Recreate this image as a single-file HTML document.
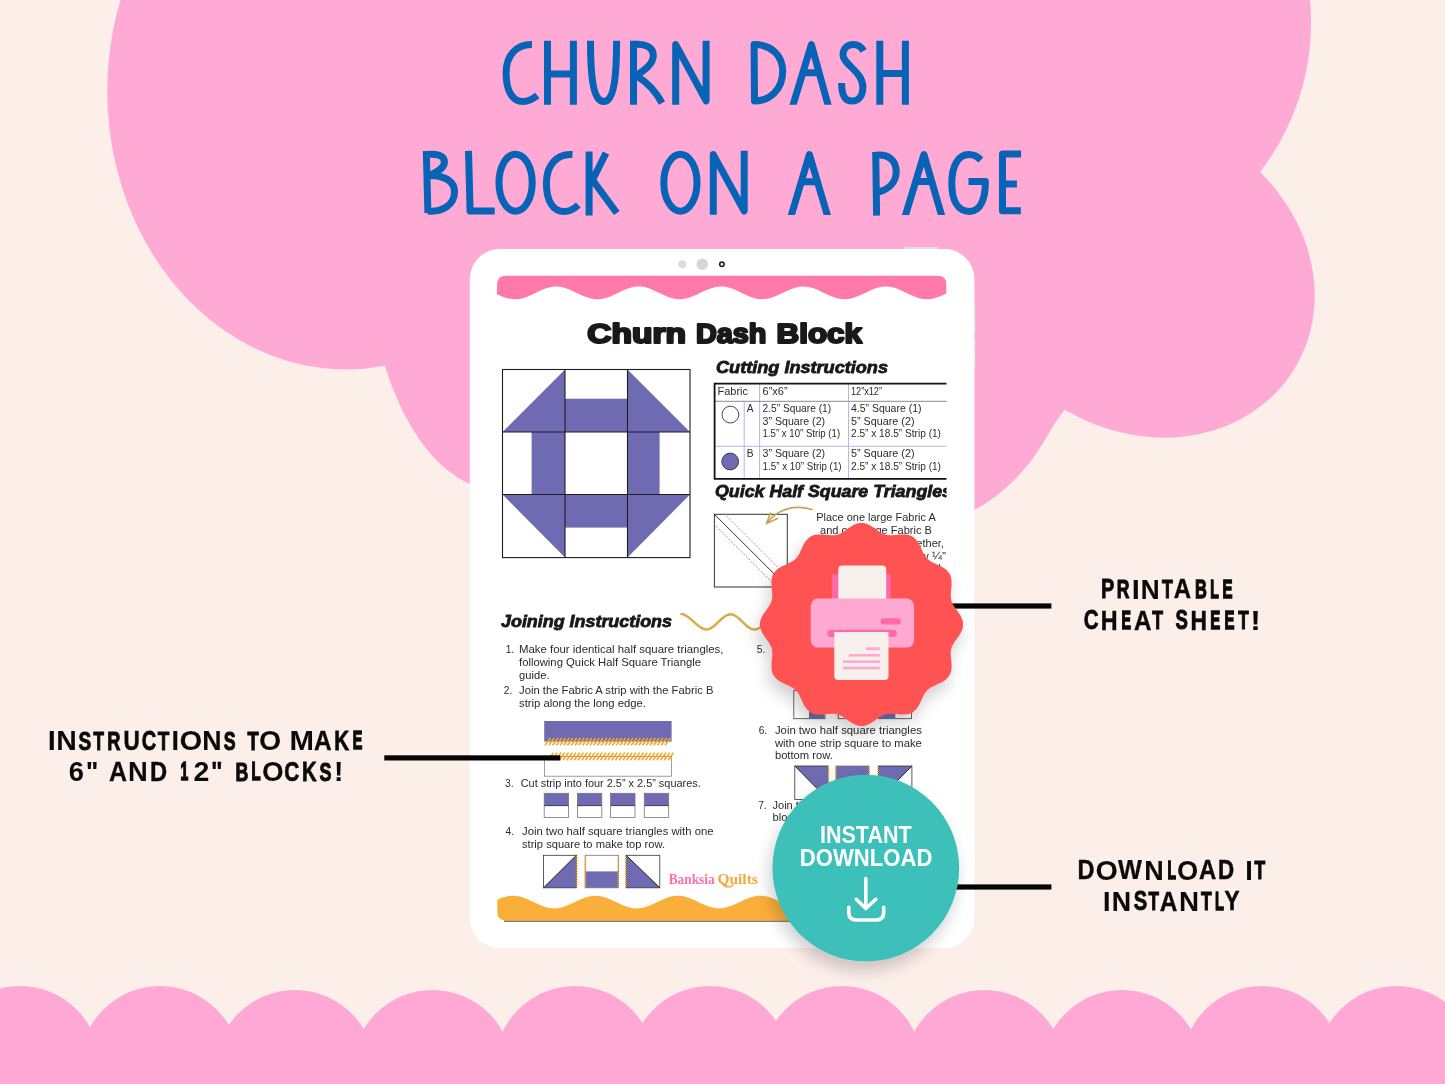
<!DOCTYPE html>
<html><head><meta charset="utf-8"><title>Churn Dash Block on a Page</title>
<style>
html,body{margin:0;padding:0;background:#fceee9;}
body{width:1445px;height:1084px;overflow:hidden;font-family:"Liberation Sans",sans-serif;}
svg{display:block;will-change:transform}
text{font-family:"Liberation Sans",sans-serif;}
.lbl{font-weight:700;font-size:25.5px;fill:#0a0a0a;}
.t{font-size:10.2px;fill:#2b2b2b;}
.h{font-weight:700;font-style:italic;font-size:17px;fill:#1a1718;stroke:#1a1718;stroke-width:.8px;}
.ttl path,.ttl ellipse{fill:none;stroke:#0663b5;stroke-width:7;stroke-linejoin:round;stroke-linecap:butt}
</style></head><body>
<svg width="1445" height="1084" viewBox="0 0 1445 1084">
<defs>
<filter id="sh" x="-30%" y="-30%" width="160%" height="160%"><feGaussianBlur in="SourceAlpha" stdDeviation="8"/><feOffset dx="-3" dy="9"/><feComponentTransfer><feFuncA type="linear" slope=".19"/></feComponentTransfer><feMerge><feMergeNode/><feMergeNode in="SourceGraphic"/></feMerge></filter>
<clipPath id="doc"><rect x="497" y="272" width="449.5" height="660"/></clipPath>
<clipPath id="tab"><rect x="469.8" y="249" width="504.6" height="699" rx="30"/></clipPath>
<clipPath id="c1"><rect x="0" y="0" width="1445" height="104.8"/></clipPath><clipPath id="c2"><rect x="0" y="0" width="1445" height="214.9"/></clipPath>
</defs>
<rect width="1445" height="1084" fill="#fceee9"/>
<path d="M135.5 -40 A238.8 278.2 0 0 0 384.9 365.7 A132.8 248.9 0 0 0 499.3 490.5 L930 529 C933.3 527.7 944.7 523.2 950.0 521.0C955.3 518.8 958.0 517.6 962.0 515.7C966.0 513.8 970.3 511.6 974.0 509.7C977.7 507.8 980.3 506.8 984.0 504.5C987.7 502.2 992.0 499.2 996.0 496.1C1000.0 493.0 1004.0 489.7 1008.0 486.0C1012.0 482.3 1016.0 478.4 1020.0 474.0C1024.0 469.6 1028.0 465.0 1032.0 459.6C1036.0 454.2 1040.0 447.9 1044.0 441.6C1047.9 435.3 1052.4 427.1 1055.9 421.8C1059.4 416.5 1063.4 411.8 1064.9 409.8 A177.1 154.9 31.7 0 0 1260 172 A244.2 244.2 0 0 0 1302.9 -40 Z" fill="#ffaad4"/>
<g fill="#ffa8d5"><circle cx="20.0" cy="1066.0" r="80"/><circle cx="160.0" cy="1066.0" r="80"/><circle cx="295.0" cy="1070.0" r="80"/><circle cx="432.5" cy="1070.0" r="80"/><circle cx="575.0" cy="1066.0" r="80"/><circle cx="710.0" cy="1066.0" r="80"/><circle cx="842.0" cy="1066.0" r="80"/><circle cx="984.5" cy="1070.0" r="80"/><circle cx="1122.0" cy="1070.0" r="80"/><circle cx="1262.0" cy="1066.0" r="80"/><circle cx="1397.0" cy="1066.0" r="80"/><rect x="0" y="1040" width="1445" height="50"/></g>
<g class="ttl">
<path d="M532 44.4C516 44 506 56 506.1 73.2C506.2 92 513 101.6 523.2 101.6C529 101.6 533 99 537.3 95.6"/>
<path d="M547.5 40.8V104.7M573.4 40.8V104.7M547.5 74H573.4"/>
<path d="M590.5 40.8C590.5 70 592 101.5 603.8 101.5C615 101.5 616.6 70 616.6 40.8"/>
<path d="M633.5 40.8V104.7M633.5 44.5C645 43 653.5 47 653.3 56C653 64 645 70 636 75.5C647 82 656 92 662 103"/>
<path d="M675.7 104.7V44.6L706.1 100.9V40.8"/>
<path d="M754.1 44.6C772 44.6 782.7 56 782.7 71.5C782.7 89 770 101.1 754.5 101.1Z"/>
<path clip-path="url(#c1)" d="M792.2 107.7L811.4 44.6L828.8 107.7M802 72.8H821"/>
<path d="M863.5 51C861 46.5 857 44.6 853.5 44.6C847 44.6 843 49 843 55C843 64 862.9 72 862.9 87C862.9 96 858.5 101.1 852.1 101.1C845 101.1 841.6 96 841.6 83"/>
<path d="M879.8 40.8V104.7M905.4 40.8V104.7M879.8 73.5H905.4"/>
<path d="M426.3 151L427.9 213M426.3 154.6C436 153.5 444.4 155 444.4 162C444.4 169 436 172 430 175.5C445 176 454.5 181 454.5 192C454.5 205 442 212.5 427.9 211"/>
<path d="M468.5 150.8L470.1 211.1H494.7"/>
<ellipse cx="515.6" cy="182.7" rx="16.6" ry="28.5"/>
<path d="M572.5 154.6C557 153.5 546.4 165 546.4 183.2C546.4 201 553 211.6 564.5 211.6C570 211.6 574 209 578.3 205"/>
<path d="M589.1 151.6V215.6M606 153L592.5 180L616.8 213"/>
<ellipse cx="680.4" cy="182.7" rx="16.6" ry="28.5"/>
<path d="M713.3 214.8V154.6L744.2 211V150.8"/>
<path clip-path="url(#c2)" d="M790.6 217.8L809.4 154.6L828.1 217.8M801 181.7H819.5"/>
<path d="M875.7 152L876.6 215.6M875.7 155.3C888 153.5 896.2 160 896.2 171.6C896.2 183 888 190 877 192.3"/>
<path clip-path="url(#c2)" d="M904.7 217.8L923.9 154.6L942.3 217.8M915 181.4H934"/>
<path d="M980.8 160C977 156 973 154.6 968.8 154.6C958 154.6 951.8 166 951.8 183.2C951.8 201 958 211.4 969.6 211.4C981 211.4 985.4 198 985.4 181.4H968.5"/>
<path d="M1021.1 154H1002.5V210.8H1020.8M1002.5 183.9H1016.9"/>
</g>
<rect x="904.4" y="247.1" width="34" height="4" rx="1" fill="#dedede"/>
<rect x="972" y="304.4" width="3.3" height="28.8" rx="1" fill="#dcdcdc"/><rect x="972" y="339" width="3.3" height="29.6" rx="1" fill="#dcdcdc"/>
<rect x="469.8" y="249" width="504.6" height="699" rx="30" fill="#fff"/>
<circle cx="682.3" cy="264.3" r="4" fill="#dcdcdc"/><circle cx="702.3" cy="264.3" r="5.7" fill="#d6d6d6"/><circle cx="721.9" cy="264.3" r="2.2" fill="#fff" stroke="#222" stroke-width="1.6"/>
<g clip-path="url(#doc)">
<path d="M506.0 275.7 H937.5 Q946.5 275.7 946.5 284.7L946.5 293.4L942.7 295.2L938.9 296.8L935.2 298.1L931.4 298.9L927.6 299.3L923.8 299.1L920.1 298.4L916.3 297.3L912.5 295.8L908.7 294.0L904.9 292.2L901.2 290.4L897.4 288.8L893.6 287.6L889.8 286.8L886.1 286.5L882.3 286.7L878.5 287.5L874.7 288.6L871.0 290.2L867.2 291.9L863.4 293.8L859.6 295.5L855.8 297.1L852.1 298.3L848.3 299.0L844.5 299.3L840.7 299.0L837.0 298.2L833.2 297.0L829.4 295.5L825.6 293.7L821.8 291.9L818.1 290.1L814.3 288.6L810.5 287.4L806.7 286.7L803.0 286.5L799.2 286.8L795.4 287.7L791.6 288.9L787.9 290.5L784.1 292.3L780.3 294.1L776.5 295.8L772.7 297.3L769.0 298.5L765.2 299.1L761.4 299.3L757.6 298.9L753.9 298.0L750.1 296.8L746.3 295.1L742.5 293.4L738.7 291.5L735.0 289.8L731.2 288.3L727.4 287.3L723.6 286.6L719.9 286.5L716.1 286.9L712.3 287.9L708.5 289.2L704.8 290.8L701.0 292.6L697.2 294.4L693.4 296.1L689.6 297.6L685.9 298.6L682.1 299.2L678.3 299.3L674.5 298.8L670.8 297.8L667.0 296.5L663.2 294.8L659.4 293.0L655.6 291.2L651.9 289.5L648.1 288.1L644.3 287.1L640.5 286.6L636.8 286.6L633.0 287.1L629.2 288.1L625.4 289.5L621.7 291.1L617.9 293.0L614.1 294.8L610.3 296.4L606.5 297.8L602.8 298.8L599.0 299.3L595.2 299.2L591.4 298.6L587.7 297.6L583.9 296.2L580.1 294.5L576.3 292.7L572.5 290.9L568.8 289.2L565.0 287.9L561.2 287.0L557.4 286.5L553.7 286.6L549.9 287.2L546.1 288.3L542.3 289.8L538.6 291.5L534.8 293.3L531.0 295.1L527.2 296.7L523.4 298.0L519.7 298.9L515.9 299.3L512.1 299.1L508.3 298.5L504.6 297.4L500.8 295.9L497.0 294.2L497.0 284.7 Q497.0 275.7 506.0 275.7Z" fill="#ff7aa9"/>
<text x="587.3" y="343.4" textLength="98.6" lengthAdjust="spacingAndGlyphs" style="font-weight:700;font-size:27.6px;fill:#1c1819;stroke:#1c1819;stroke-width:2.2px;stroke-linejoin:round">Churn</text><text x="695.9" y="343.4" textLength="70.4" lengthAdjust="spacingAndGlyphs" style="font-weight:700;font-size:27.6px;fill:#1c1819;stroke:#1c1819;stroke-width:2.2px;stroke-linejoin:round">Dash</text><text x="776.5" y="343.4" textLength="85.5" lengthAdjust="spacingAndGlyphs" style="font-weight:700;font-size:27.6px;fill:#1c1819;stroke:#1c1819;stroke-width:2.2px;stroke-linejoin:round">Block</text>
<g fill="#6e6bb3"><path d="M502.5 432L565 369.5L565 432Z"/><rect x="565" y="398.7" width="62.5" height="33.30000000000001"/><path d="M627.5 369.5L690 432L627.5 432Z"/><rect x="531.6" y="432" width="33.39999999999998" height="62.5"/><rect x="627.5" y="432" width="32.10000000000002" height="62.5"/><path d="M502.5 494.5L565 494.5L565 557.6Z"/><rect x="565" y="494.5" width="62.5" height="33.10000000000002"/><path d="M627.5 494.5L690 494.5L627.5 557.6Z"/></g>
<g fill="none" stroke="#1d1d1d" stroke-width="1.1"><rect x="502.5" y="369.5" width="187.5" height="188.10000000000002"/><path d="M565 369.5V557.6M627.5 369.5V557.6M502.5 432H690M502.5 494.5H690"/></g>
<text class="h" x="716" y="373.3" textLength="172" lengthAdjust="spacingAndGlyphs">Cutting Instructions</text>
<g fill="none" stroke="#b9b6e6" stroke-width="1"><path d="M744.2 401.5V478M759.6 384V478M848.5 384V478M715 446.3H947"/></g>
<path d="M715 401.3H947" stroke="#8a8a8a" stroke-width="1" fill="none"/>
<path d="M947 383.7H714.6V478.8H947" stroke="#111" stroke-width="1.8" fill="none"/>
<circle cx="730.4" cy="414.6" r="8.4" fill="#fff" stroke="#333" stroke-width=".9"/><circle cx="730.2" cy="461.5" r="8.4" fill="#6e6bb3" stroke="#333" stroke-width=".9"/>
<text class="t" x="717.5" y="394.6" textLength="30.5" lengthAdjust="spacingAndGlyphs">Fabric</text>
<text class="t" x="762.6" y="394.6" textLength="25" lengthAdjust="spacingAndGlyphs">6&#8221;x6&#8221;</text>
<text class="t" x="851" y="394.6" textLength="31" lengthAdjust="spacingAndGlyphs">12&#8221;x12&#8221;</text>
<text class="t" x="746.8" y="411.8">A</text>
<text class="t" x="762.6" y="411.8" textLength="68.5" lengthAdjust="spacingAndGlyphs">2.5&#8221; Square (1)</text>
<text class="t" x="762.6" y="424.6" textLength="62.5" lengthAdjust="spacingAndGlyphs">3&#8221; Square (2)</text>
<text class="t" x="762.6" y="437.4" textLength="77.5" lengthAdjust="spacingAndGlyphs">1.5&#8221; x 10&#8221; Strip (1)</text>
<text class="t" x="851" y="411.8" textLength="70.5" lengthAdjust="spacingAndGlyphs">4.5&#8221; Square (1)</text>
<text class="t" x="851" y="424.6" textLength="63.5" lengthAdjust="spacingAndGlyphs">5&#8221; Square (2)</text>
<text class="t" x="851" y="437.4" textLength="90" lengthAdjust="spacingAndGlyphs">2.5&#8221; x 18.5&#8221; Strip (1)</text>
<text class="t" x="746.8" y="457.2">B</text>
<text class="t" x="762.6" y="457.2" textLength="62.5" lengthAdjust="spacingAndGlyphs">3&#8221; Square (2)</text>
<text class="t" x="762.6" y="469.7" textLength="79" lengthAdjust="spacingAndGlyphs">1.5&#8221; x 10&#8221; Strip (1)</text>
<text class="t" x="851" y="457.2" textLength="63.5" lengthAdjust="spacingAndGlyphs">5&#8221; Square (2)</text>
<text class="t" x="851" y="469.7" textLength="90" lengthAdjust="spacingAndGlyphs">2.5&#8221; x 18.5&#8221; Strip (1)</text>
<text class="h" x="715" y="497.2" textLength="237" lengthAdjust="spacingAndGlyphs">Quick Half Square Triangles</text>
<rect x="714.4" y="514.3" width="72.9" height="72.7" fill="#fff" stroke="#333" stroke-width="1"/><path d="M714.4 514.3L787.3 587" stroke="#333" stroke-width="1" fill="none"/><path d="M724 513.5L788 577.5M713.8 524L777.5 587.6" stroke="#8a8a8a" stroke-width=".9" stroke-dasharray="2 1.5" fill="none"/>
<path d="M812 509.5C797 505 779 507 767 523M766.5 523.5L770.5 513M766.5 523.5L777.5 518.5" stroke="#c9a458" stroke-width="1.7" fill="none" stroke-linecap="round"/>
<text class="t" style="font-size:10.6px" x="876" y="521.3" text-anchor="middle" textLength="119.5" lengthAdjust="spacingAndGlyphs">Place one large Fabric A</text>
<text class="t" style="font-size:10.6px" x="876" y="534" text-anchor="middle" textLength="112" lengthAdjust="spacingAndGlyphs">and one large Fabric B</text>
<text class="t" style="font-size:10.6px" x="877.4" y="546.8" text-anchor="middle" textLength="133" lengthAdjust="spacingAndGlyphs">square right sides together,</text>
<text class="t" style="font-size:10.6px" x="877.4" y="559.5" text-anchor="middle" textLength="137" lengthAdjust="spacingAndGlyphs">then on Fabric A, draw ¼&#8221;</text>
<text class="t" style="font-size:10.6px" x="877.4" y="572.2" text-anchor="middle" textLength="133" lengthAdjust="spacingAndGlyphs">either side of the diagonal,</text>
<text class="h" x="501" y="627.3" textLength="171" lengthAdjust="spacingAndGlyphs">Joining Instructions</text>
<path d="M681.5 614C690 614 697 629.6 706.6 629.6C716 629.6 721 614.2 730.6 614.2C740 614.2 745 629.6 754.6 629.6C764 629.6 769 614.2 778.6 614.2" stroke="#dda94b" stroke-width="2.5" fill="none" stroke-linecap="round"/>
<text class="t" x="505.7" y="652.7">1.</text>
<text class="t" x="519" y="652.7" textLength="204.5" lengthAdjust="spacingAndGlyphs">Make four identical half square triangles,</text>
<text class="t" x="519" y="665.8" textLength="182" lengthAdjust="spacingAndGlyphs">following Quick Half Square Triangle</text>
<text class="t" x="519" y="678.8" textLength="30.5" lengthAdjust="spacingAndGlyphs">guide.</text>
<text class="t" x="503.8" y="694.3">2.</text>
<text class="t" x="519" y="694.3" textLength="194.5" lengthAdjust="spacingAndGlyphs">Join the Fabric A strip with the Fabric B</text>
<text class="t" x="519" y="707.4" textLength="127" lengthAdjust="spacingAndGlyphs">strip along the long edge.</text>
<rect x="544.2" y="721" width="127.4" height="20.6" fill="#6e6bb3"/><rect x="544.4" y="756.6" width="127" height="19.6" fill="#fff" stroke="#888" stroke-width=".8"/>
<path d="M545.0 745.3L550.5 738M548.0 760.3L553.5 752.6M548.8 745.3L554.2 738M551.8 760.3L557.2 752.6M552.5 745.3L558.0 738M555.5 760.3L561.0 752.6M556.2 745.3L561.8 738M559.2 760.3L564.8 752.6M560.0 745.3L565.5 738M563.0 760.3L568.5 752.6M563.8 745.3L569.2 738M566.8 760.3L572.2 752.6M567.5 745.3L573.0 738M570.5 760.3L576.0 752.6M571.2 745.3L576.8 738M574.2 760.3L579.8 752.6M575.0 745.3L580.5 738M578.0 760.3L583.5 752.6M578.8 745.3L584.2 738M581.8 760.3L587.2 752.6M582.5 745.3L588.0 738M585.5 760.3L591.0 752.6M586.2 745.3L591.8 738M589.2 760.3L594.8 752.6M590.0 745.3L595.5 738M593.0 760.3L598.5 752.6M593.8 745.3L599.2 738M596.8 760.3L602.2 752.6M597.5 745.3L603.0 738M600.5 760.3L606.0 752.6M601.2 745.3L606.8 738M604.2 760.3L609.8 752.6M605.0 745.3L610.5 738M608.0 760.3L613.5 752.6M608.8 745.3L614.2 738M611.8 760.3L617.2 752.6M612.5 745.3L618.0 738M615.5 760.3L621.0 752.6M616.2 745.3L621.8 738M619.2 760.3L624.8 752.6M620.0 745.3L625.5 738M623.0 760.3L628.5 752.6M623.8 745.3L629.2 738M626.8 760.3L632.2 752.6M627.5 745.3L633.0 738M630.5 760.3L636.0 752.6M631.2 745.3L636.8 738M634.2 760.3L639.8 752.6M635.0 745.3L640.5 738M638.0 760.3L643.5 752.6M638.8 745.3L644.2 738M641.8 760.3L647.2 752.6M642.5 745.3L648.0 738M645.5 760.3L651.0 752.6M646.2 745.3L651.8 738M649.2 760.3L654.8 752.6M650.0 745.3L655.5 738M653.0 760.3L658.5 752.6M653.8 745.3L659.2 738M656.8 760.3L662.2 752.6M657.5 745.3L663.0 738M660.5 760.3L666.0 752.6M661.2 745.3L666.8 738M664.2 760.3L669.8 752.6M665.0 745.3L670.5 738M668.0 760.3L673.5 752.6" stroke="#f5a623" stroke-width="1.6" fill="none"/>
<text class="t" x="505" y="786.7">3.</text>
<text class="t" x="520.7" y="786.7" textLength="180" lengthAdjust="spacingAndGlyphs">Cut strip into four 2.5&#8221; x 2.5&#8221; squares.</text>
<rect x="544.2" y="793.3" width="24.4" height="12.2" fill="#6e6bb3"/><rect x="544.2" y="793.3" width="24.4" height="24.3" fill="none" stroke="#777" stroke-width=".8"/><path d="M544.2 805.6h24.4" stroke="#2a2850" stroke-width=".9"/><rect x="577.4" y="793.3" width="24.4" height="12.2" fill="#6e6bb3"/><rect x="577.4" y="793.3" width="24.4" height="24.3" fill="none" stroke="#777" stroke-width=".8"/><path d="M577.4 805.6h24.4" stroke="#2a2850" stroke-width=".9"/><rect x="610.6" y="793.3" width="24.4" height="12.2" fill="#6e6bb3"/><rect x="610.6" y="793.3" width="24.4" height="24.3" fill="none" stroke="#777" stroke-width=".8"/><path d="M610.6 805.6h24.4" stroke="#2a2850" stroke-width=".9"/><rect x="644.3" y="793.3" width="24.4" height="12.2" fill="#6e6bb3"/><rect x="644.3" y="793.3" width="24.4" height="24.3" fill="none" stroke="#777" stroke-width=".8"/><path d="M644.3 805.6h24.4" stroke="#2a2850" stroke-width=".9"/>
<text class="t" x="505.5" y="834.8">4.</text>
<text class="t" x="522" y="834.8" textLength="191.5" lengthAdjust="spacingAndGlyphs">Join two half square triangles with one</text>
<text class="t" x="522" y="847.6" textLength="143" lengthAdjust="spacingAndGlyphs">strip square to make top row.</text>
<path d="M543.6 887.8L576.3 855.3V887.8Z" fill="#6e6bb3"/><rect x="543.6" y="855.3" width="32.7" height="32.5" fill="none" stroke="#333" stroke-width=".8"/><path d="M543.6 887.8L576.3 855.3" stroke="#222" stroke-width="1"/><rect x="585.2" y="871.4" width="33.2" height="16.4" fill="#6e6bb3"/><rect x="585.2" y="855.3" width="33.2" height="32.5" fill="none" stroke="#777" stroke-width=".8"/><path d="M626.2 855.3L659.8 887.8H626.2Z" fill="#6e6bb3"/><rect x="626.2" y="855.3" width="33.6" height="32.5" fill="none" stroke="#333" stroke-width=".8"/><path d="M626.2 855.3L659.8 887.8" stroke="#222" stroke-width="1"/><path d="M576.6 856V887.5M585.4 856V887.5M618.2 856V887.5M626 856V887.5" stroke="#f5a623" stroke-width="1.8" stroke-dasharray="1.1 .9" fill="none"/>
<text x="668.7" y="883.8" textLength="46" lengthAdjust="spacingAndGlyphs" style="font-family:'Liberation Serif',serif;font-size:15.5px;fill:#ff6fa8;font-weight:700">Banksia</text><text x="717.5" y="883.8" textLength="40.3" lengthAdjust="spacingAndGlyphs" style="font-family:'Liberation Serif',serif;font-size:15.5px;fill:#f6a93b;font-weight:700">Quilts</text><path d="M722 882C723 887.5 730 888.5 733 885" stroke="#f6a93b" stroke-width="1.4" fill="none" stroke-linecap="round"/>
<path d="M504 921.2H940" stroke="#5e3d12" stroke-width="1.3" opacity=".9"/><path d="M505.3 920.3Q497.3 920.3 497.3 912.3L497.3 899.7L501.1 898.1L504.8 896.9L508.6 896.1L512.4 895.7L516.2 895.9L519.9 896.6L523.7 897.7L527.5 899.2L531.3 900.9L535.0 902.7L538.8 904.5L542.6 906.1L546.4 907.3L550.1 908.1L553.9 908.4L557.7 908.2L561.5 907.4L565.2 906.3L569.0 904.8L572.8 903.0L576.6 901.2L580.3 899.4L584.1 897.9L587.9 896.7L591.7 896.0L595.4 895.7L599.2 896.0L603.0 896.7L606.8 897.9L610.5 899.5L614.3 901.2L618.1 903.1L621.9 904.8L625.6 906.3L629.4 907.5L633.2 908.2L637.0 908.4L640.7 908.1L644.5 907.3L648.3 906.0L652.1 904.5L655.8 902.7L659.6 900.9L663.4 899.2L667.2 897.7L670.9 896.5L674.7 895.9L678.5 895.7L682.3 896.1L686.0 896.9L689.8 898.2L693.6 899.8L697.4 901.5L701.1 903.4L704.9 905.1L708.7 906.5L712.5 907.6L716.2 908.3L720.0 908.4L723.8 908.0L727.6 907.1L731.3 905.8L735.1 904.2L738.9 902.4L742.7 900.6L746.4 898.9L750.2 897.5L754.0 896.4L757.8 895.8L761.5 895.7L765.3 896.2L769.1 897.1L772.9 898.4L776.6 900.1L780.4 901.9L784.2 903.7L788.0 905.3L791.7 906.8L795.5 907.8L799.3 908.3L803.1 908.3L806.8 907.9L810.6 906.9L814.4 905.5L818.2 903.9L821.9 902.1L825.7 900.3L829.5 898.6L833.3 897.2L837.0 896.3L840.8 895.8L844.6 895.8L848.4 896.3L852.1 897.3L855.9 898.7L859.7 900.4L863.5 902.2L867.2 904.0L871.0 905.6L874.8 907.0L878.6 907.9L882.3 908.4L886.1 908.3L889.9 907.7L893.7 906.7L897.4 905.3L901.2 903.6L905.0 901.8L908.8 900.0L912.5 898.4L916.3 897.0L920.1 896.1L923.9 895.7L927.6 895.8L931.4 896.4L935.2 897.5L939.0 899.0L942.7 900.7L946.5 902.5L946.5 912.3 Q946.5 920.3 938.5 920.3Z" fill="#f9af3a"/>
<text class="t" x="756.8" y="652.7">5.</text>
<g fill="#fff" stroke="#444" stroke-width=".8"><rect x="793.8" y="690.5" width="31" height="28.2"/><rect x="838.6" y="690.5" width="30.6" height="28.2"/><rect x="878.6" y="690.5" width="32.8" height="28.2"/></g><rect x="809" y="691" width="15.6" height="27.4" fill="#6e6bb3"/><rect x="879" y="691" width="16.4" height="27.4" fill="#6e6bb3"/><path d="M825.3 691V718.5M837.6 691V718.5M869.8 691V718.5M878 691V718.5" stroke="#f5a623" stroke-width="1.8" stroke-dasharray="1.1 .9" fill="none"/>
<text class="t" x="758.7" y="733.7">6.</text>
<text class="t" x="774.9" y="733.7" textLength="147" lengthAdjust="spacingAndGlyphs">Join two half square triangles</text>
<text class="t" x="774.9" y="746.6" textLength="147" lengthAdjust="spacingAndGlyphs">with one strip square to make</text>
<text class="t" x="774.9" y="759.4" textLength="58" lengthAdjust="spacingAndGlyphs">bottom row.</text>
<path d="M794.8 766H828V799.6Z" fill="#6e6bb3"/><rect x="794.8" y="766" width="33.2" height="33.6" fill="none" stroke="#333" stroke-width=".8"/><rect x="836" y="766" width="33" height="17" fill="#6e6bb3"/><rect x="836" y="766" width="33" height="33.6" fill="none" stroke="#777" stroke-width=".8"/><path d="M878.5 766H911.9L878.5 799.6Z" fill="#6e6bb3"/><rect x="878.5" y="766" width="33.4" height="33.6" fill="none" stroke="#333" stroke-width=".8"/>
<path d="M794.8 766L828 799.6M911.9 766L878.5 799.6" stroke="#222" stroke-width="1" fill="none"/><path d="M828.4 767V799M835.8 767V799M869.2 767V799M878.2 767V799" stroke="#f5a623" stroke-width="1.8" stroke-dasharray="1.1 .9" fill="none"/>
<text class="t" x="758.2" y="808.9">7.</text>
<text class="t" x="772.5" y="808.9" textLength="135" lengthAdjust="spacingAndGlyphs">Join three rows to complete</text>
<text class="t" x="772.5" y="820.9" textLength="29" lengthAdjust="spacingAndGlyphs">block.</text>
</g>
<rect x="384.3" y="755.3" width="176" height="5.2" fill="#050505"/>
<rect x="940" y="603.4" width="111.4" height="5.2" fill="#050505"/><rect x="940" y="884.4" width="111.4" height="5.2" fill="#050505"/>
<g filter="url(#sh)"><path d="M963.1 624.5L963.0 626.3L962.7 628.0L962.1 629.8L961.4 631.5L960.6 633.2L959.6 634.8L958.5 636.4L957.4 638.0L956.3 639.5L955.2 641.0L954.2 642.5L953.3 644.0L952.5 645.5L951.8 647.0L951.3 648.6L951.0 650.2L950.8 651.8L950.7 653.5L950.8 655.2L950.9 657.0L951.1 658.9L951.3 660.8L951.5 662.7L951.6 664.6L951.6 666.5L951.5 668.4L951.3 670.3L950.9 672.0L950.3 673.7L949.5 675.3L948.5 676.8L947.3 678.1L946.0 679.4L944.6 680.5L943.0 681.5L941.3 682.5L939.6 683.3L937.8 684.1L936.1 684.9L934.4 685.7L932.8 686.4L931.2 687.3L929.8 688.2L928.5 689.2L927.3 690.3L926.2 691.5L925.2 692.8L924.3 694.2L923.4 695.8L922.7 697.4L921.9 699.1L921.1 700.8L920.3 702.6L919.5 704.3L918.5 706.0L917.5 707.6L916.4 709.0L915.1 710.3L913.8 711.5L912.3 712.5L910.7 713.3L909.0 713.9L907.3 714.3L905.4 714.5L903.5 714.6L901.6 714.6L899.7 714.5L897.8 714.3L895.9 714.1L894.0 713.9L892.2 713.8L890.5 713.7L888.8 713.8L887.2 714.0L885.6 714.3L884.0 714.8L882.5 715.5L881.0 716.3L879.5 717.2L878.0 718.2L876.5 719.3L875.0 720.4L873.4 721.5L871.8 722.6L870.2 723.6L868.5 724.4L866.8 725.1L865.0 725.7L863.3 726.0L861.5 726.1L859.7 726.0L858.0 725.7L856.2 725.1L854.5 724.4L852.8 723.6L851.2 722.6L849.6 721.5L848.0 720.4L846.5 719.3L845.0 718.2L843.5 717.2L842.0 716.3L840.5 715.5L839.0 714.8L837.4 714.3L835.8 714.0L834.2 713.8L832.5 713.7L830.8 713.8L829.0 713.9L827.1 714.1L825.2 714.3L823.3 714.5L821.4 714.6L819.5 714.6L817.6 714.5L815.7 714.3L814.0 713.9L812.3 713.3L810.7 712.5L809.2 711.5L807.9 710.3L806.6 709.0L805.5 707.6L804.5 706.0L803.5 704.3L802.7 702.6L801.9 700.8L801.1 699.1L800.3 697.4L799.6 695.8L798.7 694.2L797.8 692.8L796.8 691.5L795.7 690.3L794.5 689.2L793.2 688.2L791.8 687.3L790.2 686.4L788.6 685.7L786.9 684.9L785.2 684.1L783.4 683.3L781.7 682.5L780.0 681.5L778.4 680.5L777.0 679.4L775.7 678.1L774.5 676.8L773.5 675.3L772.7 673.7L772.1 672.0L771.7 670.3L771.5 668.4L771.4 666.5L771.4 664.6L771.5 662.7L771.7 660.8L771.9 658.9L772.1 657.0L772.2 655.2L772.3 653.5L772.2 651.8L772.0 650.2L771.7 648.6L771.2 647.0L770.5 645.5L769.7 644.0L768.8 642.5L767.8 641.0L766.7 639.5L765.6 638.0L764.5 636.4L763.4 634.8L762.4 633.2L761.6 631.5L760.9 629.8L760.3 628.0L760.0 626.3L759.9 624.5L760.0 622.7L760.3 621.0L760.9 619.2L761.6 617.5L762.4 615.8L763.4 614.2L764.5 612.6L765.6 611.0L766.7 609.5L767.8 608.0L768.8 606.5L769.7 605.0L770.5 603.5L771.2 602.0L771.7 600.4L772.0 598.8L772.2 597.2L772.3 595.5L772.2 593.8L772.1 592.0L771.9 590.1L771.7 588.2L771.5 586.3L771.4 584.4L771.4 582.5L771.5 580.6L771.7 578.7L772.1 577.0L772.7 575.3L773.5 573.7L774.5 572.2L775.7 570.9L777.0 569.6L778.4 568.5L780.0 567.5L781.7 566.5L783.4 565.7L785.2 564.9L786.9 564.1L788.6 563.3L790.2 562.6L791.8 561.7L793.2 560.8L794.5 559.8L795.7 558.7L796.8 557.5L797.8 556.2L798.7 554.8L799.6 553.2L800.3 551.6L801.1 549.9L801.9 548.2L802.7 546.4L803.5 544.7L804.5 543.0L805.5 541.4L806.6 540.0L807.9 538.7L809.2 537.5L810.7 536.5L812.3 535.7L814.0 535.1L815.7 534.7L817.6 534.5L819.5 534.4L821.4 534.4L823.3 534.5L825.2 534.7L827.1 534.9L829.0 535.1L830.8 535.2L832.5 535.3L834.2 535.2L835.8 535.0L837.4 534.7L839.0 534.2L840.5 533.5L842.0 532.7L843.5 531.8L845.0 530.8L846.5 529.7L848.0 528.6L849.6 527.5L851.2 526.4L852.8 525.4L854.5 524.6L856.2 523.9L858.0 523.3L859.7 523.0L861.5 522.9L863.3 523.0L865.0 523.3L866.8 523.9L868.5 524.6L870.2 525.4L871.8 526.4L873.4 527.5L875.0 528.6L876.5 529.7L878.0 530.8L879.5 531.8L881.0 532.7L882.5 533.5L884.0 534.2L885.6 534.7L887.2 535.0L888.8 535.2L890.5 535.3L892.2 535.2L894.0 535.1L895.9 534.9L897.8 534.7L899.7 534.5L901.6 534.4L903.5 534.4L905.4 534.5L907.3 534.7L909.0 535.1L910.7 535.7L912.3 536.5L913.8 537.5L915.1 538.7L916.4 540.0L917.5 541.4L918.5 543.0L919.5 544.7L920.3 546.4L921.1 548.2L921.9 549.9L922.7 551.6L923.4 553.2L924.3 554.8L925.2 556.2L926.2 557.5L927.3 558.7L928.5 559.8L929.8 560.8L931.2 561.7L932.8 562.6L934.4 563.3L936.1 564.1L937.8 564.9L939.6 565.7L941.3 566.5L943.0 567.5L944.6 568.5L946.0 569.6L947.3 570.9L948.5 572.2L949.5 573.7L950.3 575.3L950.9 577.0L951.3 578.7L951.5 580.6L951.6 582.5L951.6 584.4L951.5 586.3L951.3 588.2L951.1 590.1L950.9 592.0L950.8 593.8L950.7 595.5L950.8 597.2L951.0 598.8L951.3 600.4L951.8 602.0L952.5 603.5L953.3 605.0L954.2 606.5L955.2 608.0L956.3 609.5L957.4 611.0L958.5 612.6L959.6 614.2L960.6 615.8L961.4 617.5L962.1 619.2L962.7 621.0L963.0 622.7Z" fill="#ff5252"/></g>
<rect x="831.9" y="574.2" width="59" height="26" fill="#ff69a8"/><path d="M838.3 600V569.5Q838.3 565.5 842.3 565.5H882.2Q886.2 565.5 886.2 569.5V600Z" fill="#f7f0ec"/><rect x="810.7" y="598.6" width="103.4" height="49" rx="7.5" fill="#ffa9d2"/><rect x="880.6" y="618.2" width="20.2" height="6.4" rx="3.2" fill="#ff69a8"/><rect x="827.1" y="629.7" width="69.7" height="7.2" rx="3.6" fill="#ff69a8"/><path d="M834.3 632.1H888.5V676Q888.5 680 884.5 680H838.3Q834.3 680 834.3 676Z" fill="#f7f0ec"/><g fill="#ffa9d2"><rect x="866" y="647.3" width="13.8" height="2.8"/><rect x="849" y="654" width="30.8" height="2.6"/><rect x="843" y="660.4" width="36.8" height="2.6"/><rect x="843" y="666.7" width="36.8" height="2.6"/></g>
<g filter="url(#sh)"><circle cx="865.8" cy="868.1" r="93.4" fill="#3ec0b9"/></g>
<text x="865.8" y="842.6" text-anchor="middle" textLength="91.7" lengthAdjust="spacingAndGlyphs" style="font-weight:700;font-size:23.5px;fill:#fff">INSTANT</text><text x="866.1" y="865.7" text-anchor="middle" textLength="132.5" lengthAdjust="spacingAndGlyphs" style="font-weight:700;font-size:23.5px;fill:#fff">DOWNLOAD</text>
<path d="M865.8 878.5V907.5M856.3 899.3L865.8 908.5L875.8 899.3M848.8 907.2V912.5Q848.8 920 856.3 920H876.2Q883.7 920 883.7 912.5V907.2" fill="none" stroke="#fff" stroke-width="3.6" stroke-linecap="round" stroke-linejoin="round"/>
<g style="font-weight:700;fill:#0a0a0a">
<text transform="translate(47.7 750.0) scale(1.041 1.000)" font-size="27.8">I</text><text transform="translate(56.2 750.0) scale(1.023 1.000)" font-size="27.8">N</text><text transform="translate(78.5 749.6) scale(0.688 0.958)" font-size="27.8" stroke="#0a0a0a" stroke-width="0.81" vector-effect="non-scaling-stroke">S</text><text transform="translate(93.5 749.5) scale(0.615 0.948)" font-size="27.8" stroke="#0a0a0a" stroke-width="1.00" vector-effect="non-scaling-stroke">T</text><text transform="translate(107.3 749.6) scale(0.657 0.954)" font-size="27.8" stroke="#0a0a0a" stroke-width="0.89" vector-effect="non-scaling-stroke">R</text><text transform="translate(123.4 749.8) scale(0.809 0.974)" font-size="27.8" stroke="#0a0a0a" stroke-width="0.50" vector-effect="non-scaling-stroke">U</text><text transform="translate(141.7 749.6) scale(0.723 0.963)" font-size="27.8" stroke="#0a0a0a" stroke-width="0.72" vector-effect="non-scaling-stroke">C</text><text transform="translate(157.7 749.6) scale(0.680 0.957)" font-size="27.8" stroke="#0a0a0a" stroke-width="0.83" vector-effect="non-scaling-stroke">T</text><text transform="translate(171.5 750.0) scale(0.976 0.997)" font-size="27.8" stroke="#0a0a0a" stroke-width="0.06" vector-effect="non-scaling-stroke">I</text><text transform="translate(179.5 750.0) scale(1.050 1.000)" font-size="27.8">O</text><text transform="translate(202.3 750.0) scale(0.963 0.995)" font-size="27.8" stroke="#0a0a0a" stroke-width="0.10" vector-effect="non-scaling-stroke">N</text><text transform="translate(223.8 749.5) scale(0.638 0.951)" font-size="27.8" stroke="#0a0a0a" stroke-width="0.94" vector-effect="non-scaling-stroke">S</text><text transform="translate(247.5 749.6) scale(0.659 0.954)" font-size="27.8" stroke="#0a0a0a" stroke-width="0.89" vector-effect="non-scaling-stroke">T</text><text transform="translate(259.1 750.0) scale(1.024 1.000)" font-size="27.8">O</text><text transform="translate(289.4 750.0) scale(1.058 1.000)" font-size="27.8">M</text><text transform="translate(314.1 749.8) scale(0.879 0.984)" font-size="27.8" stroke="#0a0a0a" stroke-width="0.31" vector-effect="non-scaling-stroke">A</text><text transform="translate(334.3 749.7) scale(0.743 0.965)" font-size="27.8" stroke="#0a0a0a" stroke-width="0.67" vector-effect="non-scaling-stroke">K</text><text transform="translate(352.8 749.4) scale(0.518 0.935)" font-size="27.8" stroke="#0a0a0a" stroke-width="1.25" vector-effect="non-scaling-stroke">E</text>
<text transform="translate(68.8 781.0) scale(0.982 0.998)" font-size="27.8">6</text><text transform="translate(86.0 780.9) scale(0.929 0.990)" font-size="27.8" stroke="#0a0a0a" stroke-width="0.19" vector-effect="non-scaling-stroke">&quot;</text><text transform="translate(109.1 780.9) scale(0.898 0.986)" font-size="27.8" stroke="#0a0a0a" stroke-width="0.27" vector-effect="non-scaling-stroke">A</text><text transform="translate(127.9 781.0) scale(0.984 0.998)" font-size="27.8">N</text><text transform="translate(150.1 780.8) scale(0.854 0.980)" font-size="27.8" stroke="#0a0a0a" stroke-width="0.38" vector-effect="non-scaling-stroke">D</text><text transform="translate(180.4 780.4) scale(0.500 0.932)" font-size="27.8" stroke="#0a0a0a" stroke-width="1.30" vector-effect="non-scaling-stroke">1</text><text transform="translate(193.5 781.0) scale(1.026 1.000)" font-size="27.8">2</text><text transform="translate(211.0 780.9) scale(0.886 0.985)" font-size="27.8" stroke="#0a0a0a" stroke-width="0.30" vector-effect="non-scaling-stroke">&quot;</text><text transform="translate(235.4 780.5) scale(0.640 0.951)" font-size="27.8" stroke="#0a0a0a" stroke-width="0.94" vector-effect="non-scaling-stroke">B</text><text transform="translate(251.6 780.4) scale(0.537 0.937)" font-size="27.8" stroke="#0a0a0a" stroke-width="1.20" vector-effect="non-scaling-stroke">L</text><text transform="translate(262.0 781.0) scale(1.003 1.000)" font-size="27.8">O</text><text transform="translate(284.2 780.7) scale(0.749 0.966)" font-size="27.8" stroke="#0a0a0a" stroke-width="0.65" vector-effect="non-scaling-stroke">C</text><text transform="translate(301.9 780.6) scale(0.730 0.963)" font-size="27.8" stroke="#0a0a0a" stroke-width="0.70" vector-effect="non-scaling-stroke">K</text><text transform="translate(319.6 780.5) scale(0.646 0.952)" font-size="27.8" stroke="#0a0a0a" stroke-width="0.92" vector-effect="non-scaling-stroke">S</text><text transform="translate(333.9 781.0) scale(1.016 1.000)" font-size="27.8">!</text>
<text transform="translate(1100.9 598.2) scale(0.712 0.961)" font-size="28.0" stroke="#0a0a0a" stroke-width="0.75" vector-effect="non-scaling-stroke">P</text><text transform="translate(1116.7 598.1) scale(0.627 0.950)" font-size="28.0" stroke="#0a0a0a" stroke-width="0.97" vector-effect="non-scaling-stroke">R</text><text transform="translate(1131.7 598.6) scale(1.036 1.000)" font-size="28.0">I</text><text transform="translate(1140.7 598.5) scale(0.935 0.991)" font-size="28.0" stroke="#0a0a0a" stroke-width="0.17" vector-effect="non-scaling-stroke">N</text><text transform="translate(1162.0 598.1) scale(0.633 0.951)" font-size="28.0" stroke="#0a0a0a" stroke-width="0.95" vector-effect="non-scaling-stroke">T</text><text transform="translate(1173.8 598.4) scale(0.855 0.980)" font-size="28.0" stroke="#0a0a0a" stroke-width="0.38" vector-effect="non-scaling-stroke">A</text><text transform="translate(1194.9 598.1) scale(0.588 0.944)" font-size="28.0" stroke="#0a0a0a" stroke-width="1.07" vector-effect="non-scaling-stroke">B</text><text transform="translate(1210.3 598.0) scale(0.500 0.933)" font-size="28.0" stroke="#0a0a0a" stroke-width="1.30" vector-effect="non-scaling-stroke">L</text><text transform="translate(1222.4 598.0) scale(0.538 0.938)" font-size="28.0" stroke="#0a0a0a" stroke-width="1.20" vector-effect="non-scaling-stroke">E</text>
<text transform="translate(1083.7 629.4) scale(0.727 0.963)" font-size="28.1" stroke="#0a0a0a" stroke-width="0.71" vector-effect="non-scaling-stroke">C</text><text transform="translate(1100.8 629.6) scale(0.829 0.977)" font-size="28.1" stroke="#0a0a0a" stroke-width="0.44" vector-effect="non-scaling-stroke">H</text><text transform="translate(1121.6 629.2) scale(0.504 0.934)" font-size="28.1" stroke="#0a0a0a" stroke-width="1.29" vector-effect="non-scaling-stroke">E</text><text transform="translate(1133.9 629.6) scale(0.862 0.982)" font-size="28.1" stroke="#0a0a0a" stroke-width="0.36" vector-effect="non-scaling-stroke">A</text><text transform="translate(1152.3 629.3) scale(0.629 0.950)" font-size="28.1" stroke="#0a0a0a" stroke-width="0.96" vector-effect="non-scaling-stroke">T</text><text transform="translate(1175.4 629.4) scale(0.659 0.954)" font-size="28.1" stroke="#0a0a0a" stroke-width="0.89" vector-effect="non-scaling-stroke">S</text><text transform="translate(1190.4 629.6) scale(0.808 0.974)" font-size="28.1" stroke="#0a0a0a" stroke-width="0.50" vector-effect="non-scaling-stroke">H</text><text transform="translate(1210.3 629.2) scale(0.534 0.938)" font-size="28.1" stroke="#0a0a0a" stroke-width="1.21" vector-effect="non-scaling-stroke">E</text><text transform="translate(1224.5 629.2) scale(0.534 0.938)" font-size="28.1" stroke="#0a0a0a" stroke-width="1.21" vector-effect="non-scaling-stroke">E</text><text transform="translate(1238.3 629.3) scale(0.608 0.947)" font-size="28.1" stroke="#0a0a0a" stroke-width="1.02" vector-effect="non-scaling-stroke">T</text><text transform="translate(1250.2 629.8) scale(1.128 1.000)" font-size="28.1">!</text>
<text transform="translate(1077.6 879.3) scale(0.848 0.979)" font-size="27.8" stroke="#0a0a0a" stroke-width="0.40" vector-effect="non-scaling-stroke">D</text><text transform="translate(1095.4 879.5) scale(1.034 1.000)" font-size="27.8">O</text><text transform="translate(1118.1 879.4) scale(0.912 0.988)" font-size="27.8" stroke="#0a0a0a" stroke-width="0.23" vector-effect="non-scaling-stroke">W</text><text transform="translate(1144.3 879.5) scale(0.970 0.996)" font-size="27.8" stroke="#0a0a0a" stroke-width="0.08" vector-effect="non-scaling-stroke">N</text><text transform="translate(1167.6 878.9) scale(0.500 0.932)" font-size="27.8" stroke="#0a0a0a" stroke-width="1.30" vector-effect="non-scaling-stroke">L</text><text transform="translate(1177.0 879.5) scale(0.980 0.997)" font-size="27.8" stroke="#0a0a0a" stroke-width="0.05" vector-effect="non-scaling-stroke">O</text><text transform="translate(1198.9 879.3) scale(0.860 0.981)" font-size="27.8" stroke="#0a0a0a" stroke-width="0.36" vector-effect="non-scaling-stroke">A</text><text transform="translate(1218.0 879.2) scale(0.806 0.974)" font-size="27.8" stroke="#0a0a0a" stroke-width="0.50" vector-effect="non-scaling-stroke">D</text><text transform="translate(1245.2 879.5) scale(0.976 0.997)" font-size="27.8" stroke="#0a0a0a" stroke-width="0.06" vector-effect="non-scaling-stroke">I</text><text transform="translate(1254.5 879.0) scale(0.630 0.950)" font-size="27.8" stroke="#0a0a0a" stroke-width="0.96" vector-effect="non-scaling-stroke">T</text>
<text transform="translate(1103.1 910.7) scale(0.962 0.995)" font-size="28.0" stroke="#0a0a0a" stroke-width="0.10" vector-effect="non-scaling-stroke">I</text><text transform="translate(1111.8 910.6) scale(0.957 0.994)" font-size="28.0" stroke="#0a0a0a" stroke-width="0.11" vector-effect="non-scaling-stroke">N</text><text transform="translate(1133.7 910.3) scale(0.719 0.962)" font-size="28.0" stroke="#0a0a0a" stroke-width="0.73" vector-effect="non-scaling-stroke">S</text><text transform="translate(1148.4 910.2) scale(0.611 0.948)" font-size="28.0" stroke="#0a0a0a" stroke-width="1.01" vector-effect="non-scaling-stroke">T</text><text transform="translate(1159.7 910.5) scale(0.874 0.983)" font-size="28.0" stroke="#0a0a0a" stroke-width="0.33" vector-effect="non-scaling-stroke">A</text><text transform="translate(1178.9 910.7) scale(0.993 0.999)" font-size="28.0">N</text><text transform="translate(1200.9 910.2) scale(0.626 0.950)" font-size="28.0" stroke="#0a0a0a" stroke-width="0.97" vector-effect="non-scaling-stroke">T</text><text transform="translate(1215.0 910.1) scale(0.517 0.935)" font-size="28.0" stroke="#0a0a0a" stroke-width="1.26" vector-effect="non-scaling-stroke">L</text><text transform="translate(1224.6 910.4) scale(0.805 0.974)" font-size="28.0" stroke="#0a0a0a" stroke-width="0.51" vector-effect="non-scaling-stroke">Y</text>
</g>
</svg></body></html>
